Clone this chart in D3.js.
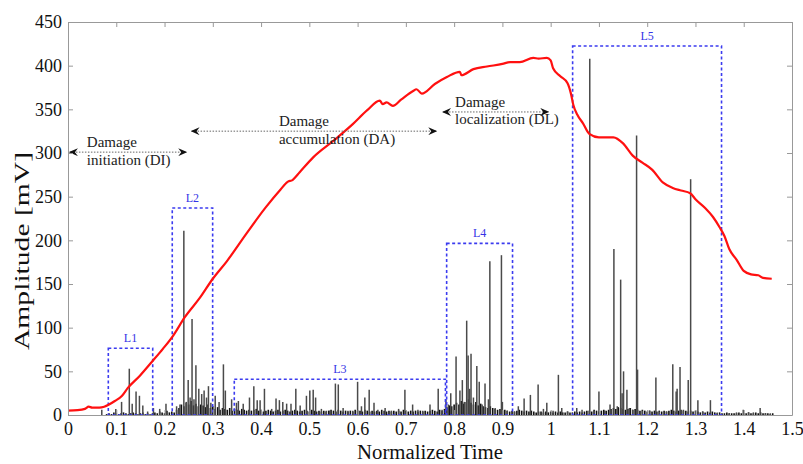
<!DOCTYPE html>
<html>
<head>
<meta charset="utf-8">
<script src="https://cdn.jsdelivr.net/npm/d3@7"></script>
<style>
  body { margin: 0; background: #fff; }
  svg text { font-family: "Liberation Serif", "DejaVu Serif", serif; }
</style>
</head>
<body>
<svg id="chart" width="803" height="464"></svg>
<script>
"use strict";

// load curve (red), [normalized time, amplitude]
var loadCurve = [
    [0, 5], [0.02, 5.5], [0.035, 7], [0.043, 9.5], [0.05, 8.5], [0.065, 8.5], [0.075, 9.5],
    [0.085, 12], [0.097, 16], [0.112, 22], [0.124, 31], [0.149, 45], [0.174, 61], [0.197, 76],
    [0.218, 91], [0.242, 112], [0.273, 134], [0.30, 156], [0.329, 176], [0.37, 208], [0.41, 238],
    [0.44, 258], [0.455, 267], [0.465, 269], [0.48, 278], [0.508, 295], [0.55, 314], [0.59, 333],
    [0.62, 349], [0.646, 360], [0.652, 356], [0.66, 358], [0.673, 354], [0.69, 361], [0.715, 371],
    [0.722, 373], [0.733, 368], [0.76, 379], [0.785, 387], [0.812, 393], [0.815, 389], [0.84, 396],
    [0.868, 399], [0.9, 402], [0.916, 404], [0.936, 404], [0.964, 409], [0.975, 408], [0.992, 409],
    [1.0, 406], [1.005, 397], [1.02, 388], [1.035, 380], [1.042, 368], [1.047, 355], [1.055, 344],
    [1.067, 334], [1.08, 322], [1.10, 318], [1.13, 318], [1.15, 311], [1.17, 297], [1.19, 289],
    [1.21, 281], [1.233, 266], [1.253, 260], [1.27, 257], [1.289, 254], [1.30, 247], [1.32, 237],
    [1.336, 227], [1.35, 215], [1.36, 205], [1.37, 190], [1.385, 178], [1.40, 165], [1.415, 161],
    [1.43, 160], [1.44, 157], [1.458, 156]
];

// AE hits, [normalized time, amplitude]
var aeHits = [
    [0.070, 6], [0.099, 7], [0.111, 15], [0.127, 53], [0.133, 13], [0.141, 27], [0.148, 22], [0.155, 11],
    [0.165, 4], [0.177, 8], [0.19, 7], [0.203, 13], [0.225, 10],
    [0.232, 12], [0.240, 211], [0.245, 15], [0.249, 40], [0.253, 20], [0.257, 110], [0.261, 18],
    [0.265, 57], [0.271, 30], [0.277, 24], [0.282, 28], [0.287, 20], [0.291, 33], [0.296, 14],
    [0.305, 22], [0.313, 15], [0.322, 58], [0.326, 28], [0.339, 18], [0.349, 14],
    [0.353, 16], [0.363, 13], [0.376, 20], [0.385, 33], [0.392, 17], [0.398, 17], [0.407, 30],
    [0.422, 7], [0.431, 19], [0.438, 17], [0.445, 15], [0.453, 13], [0.462, 13], [0.472, 30],
    [0.481, 11], [0.494, 22], [0.501, 28], [0.508, 29], [0.513, 20], [0.525, 7], [0.535, 5],
    [0.542, 5], [0.554, 36], [0.56, 35], [0.57, 8], [0.58, 5], [0.59, 5], [0.6, 38], [0.608, 10],
    [0.615, 20], [0.624, 29], [0.634, 14], [0.642, 6], [0.657, 8], [0.67, 5], [0.685, 7],
    [0.698, 29], [0.714, 12], [0.725, 6], [0.735, 5], [0.75, 12], [0.767, 30], [0.775, 6],
    [0.783, 18], [0.788, 12], [0.793, 25], [0.804, 67], [0.812, 28], [0.817, 40], [0.821, 15],
    [0.826, 108], [0.829, 68], [0.832, 30], [0.835, 70], [0.84, 20], [0.847, 56], [0.852, 38],
    [0.858, 12], [0.864, 36], [0.871, 18], [0.874, 176], [0.885, 8], [0.898, 183], [0.9, 15],
    [0.91, 5], [0.925, 4], [0.933, 10], [0.945, 19], [0.958, 23], [0.974, 35], [0.985, 7],
    [0.992, 14], [1.005, 5], [1.016, 46], [1.023, 8], [1.035, 4], [1.054, 8], [1.065, 6],
    [1.081, 408], [1.09, 5], [1.1, 27], [1.112, 5], [1.123, 12], [1.131, 190], [1.138, 10],
    [1.145, 155], [1.148, 25], [1.151, 50], [1.158, 29], [1.163, 8], [1.17, 6], [1.178, 320],
    [1.18, 52], [1.19, 5], [1.205, 5], [1.218, 43], [1.225, 4], [1.24, 4], [1.253, 58], [1.26, 27],
    [1.262, 30], [1.268, 55], [1.275, 6], [1.285, 40], [1.29, 270], [1.305, 17], [1.315, 4],
    [1.331, 17], [1.345, 3],
    [1.37, 2], [1.385, 3], [1.399, 6], [1.41, 3], [1.42, 3], [1.434, 8], [1.445, 2], [1.455, 2]
];

// low-amplitude background hits, every 0.005 from 0.08
var lowStart = 0.08;
var lowStep = 0.005;
var lowHits = [
    1, 2, 1, 3, 2, 1, 2, 3, 2, 1,
    2, 3, 2, 1, 2, 3, 1, 2, 1, 2,
    3, 2, 4, 3, 2, 5, 3, 4, 3, 6,
    8, 12, 10, 14, 12, 16, 11, 13, 10, 12,
    11, 9, 12, 8, 10, 7, 9, 6, 8, 7,
    6, 8, 5, 7, 6, 5, 7, 6, 5, 6,
    5, 6, 7, 5, 6, 4, 5, 6, 5, 4,
    5, 6, 4, 5, 6, 5, 4, 5, 6, 5,
    4, 5, 6, 5, 4, 6, 5, 4, 5, 4,
    5, 4, 5, 6, 5, 4, 6, 5, 4, 5,
    4, 5, 4, 6, 5, 5, 4, 6, 5, 4,
    5, 4, 5, 4, 6, 5, 4, 5, 4, 5,
    4, 5, 4, 6, 5, 4, 5, 4, 5, 4,
    5, 4, 5, 4, 5, 6, 5, 4, 6, 5,
    7, 9, 11, 10, 12, 14, 12, 16, 13, 15,
    18, 14, 12, 15, 11, 13, 10, 9, 8, 10,
    8, 7, 6, 7, 5, 6, 5, 4, 5, 4,
    5, 6, 5, 4, 5, 4, 5, 4, 3, 4,
    4, 3, 4, 3, 4, 3, 4, 3, 4, 3,
    3, 4, 3, 3, 4, 3, 4, 3, 4, 5,
    5, 4, 6, 5, 4, 5, 6, 5, 6, 7,
    8, 7, 9, 8, 7, 6, 7, 8, 6, 7,
    6, 5, 6, 5, 4, 5, 4, 5, 4, 5,
    4, 5, 4, 5, 6, 5, 4, 5, 6, 5,
    5, 4, 5, 4, 5, 4, 3, 4, 3, 4,
    3, 4, 3, 2, 3, 2, 2, 3, 2, 2,
    2, 2, 3, 2, 2, 2, 3, 2, 2, 3,
    2, 3, 2, 2, 2, 1, 2
];

// localization windows: name, t start, t end, top amplitude
var windows = [
    ["L1", 0.0835, 0.1755, 76.5],
    ["L2", 0.216, 0.2997, 237],
    ["L3", 0.3445, 0.782, 41],
    ["L4", 0.7845, 0.921, 196.5],
    ["L5", 1.0455, 1.354, 422.5]
];

// damage stages: first line, second line, t start, t end, amplitude, text t
var stages = [
    ["Damage", "initiation (DI)", 0.004, 0.245, 301, 0.039],
    ["Damage", "accumulation (DA)", 0.256, 0.763, 325, 0.437],
    ["Damage", "localization (DL)", 0.777, 0.995, 347, 0.802]
];

var xTicks = [0, 0.1, 0.2, 0.3, 0.4, 0.5, 0.6, 0.7, 0.8, 0.9, 1, 1.1, 1.2, 1.3, 1.4, 1.5];
var yTicks = [0, 50, 100, 150, 200, 250, 300, 350, 400, 450];

var margin = { left: 68, right: 11, top: 22, bottom: 49 };
var width = 803, height = 464;

var svg = d3.select("#chart");

var x = d3.scaleLinear().domain([0, 1.5]).range([margin.left, width - margin.right]);
var y = d3.scaleLinear().domain([0, 450]).range([height - margin.bottom, margin.top]);

// arrow head
svg.append("defs").append("marker")
    .attr("id", "head")
    .attr("viewBox", "0 0 9 8")
    .attr("refX", 8)
    .attr("refY", 4)
    .attr("markerWidth", 9)
    .attr("markerHeight", 8)
    .attr("markerUnits", "userSpaceOnUse")
    .attr("orient", "auto-start-reverse")
    .append("path")
    .attr("d", "M0,0 L9,4 L0,8 L3,4 Z")
    .attr("fill", "#111");

// background hits
svg.append("g").selectAll("line")
    .data(lowHits)
    .enter()
    .append("line")
    .attr("x1", function (d, i) { return x(lowStart + i * lowStep); })
    .attr("x2", function (d, i) { return x(lowStart + i * lowStep); })
    .attr("y1", y(0))
    .attr("y2", function (d) { return y(d); })
    .attr("stroke", "#111")
    .attr("stroke-width", 1.6);

// main hits
svg.append("g").selectAll("line")
    .data(aeHits)
    .enter()
    .append("line")
    .attr("x1", function (d) { return x(d[0]); })
    .attr("x2", function (d) { return x(d[0]); })
    .attr("y1", y(0))
    .attr("y2", function (d) { return y(d[1]); })
    .attr("stroke", "#4a4a4a")
    .attr("stroke-width", 1.5);

// windows
var win = svg.append("g");
win.selectAll("rect")
    .data(windows)
    .enter()
    .append("rect")
    .attr("x", function (d) { return x(d[1]); })
    .attr("y", function (d) { return y(d[3]); })
    .attr("width", function (d) { return x(d[2]) - x(d[1]); })
    .attr("height", function (d) { return y(0) - y(d[3]); })
    .attr("fill", "none")
    .attr("stroke", "#3b3bef")
    .attr("stroke-width", 1.6)
    .attr("stroke-dasharray", "3,2.5");

win.selectAll("text")
    .data(windows)
    .enter()
    .append("text")
    .attr("x", function (d) { return (x(d[1]) + x(d[2])) / 2; })
    .attr("y", function (d) { return y(d[3]) - 6; })
    .attr("text-anchor", "middle")
    .attr("font-size", "12px")
    .attr("fill", "#3535e6")
    .text(function (d) { return d[0]; });

// load curve
svg.append("path")
    .datum(loadCurve)
    .attr("d", d3.line()
        .x(function (d) { return x(d[0]); })
        .y(function (d) { return y(d[1]); })
        .curve(d3.curveMonotoneX))
    .attr("fill", "none")
    .attr("stroke", "#ff1010")
    .attr("stroke-width", 2.2);

// damage stage arrows
var st = svg.append("g");
st.selectAll("line")
    .data(stages)
    .enter()
    .append("line")
    .attr("x1", function (d) { return x(d[2]); })
    .attr("x2", function (d) { return x(d[3]); })
    .attr("y1", function (d) { return y(d[4]); })
    .attr("y2", function (d) { return y(d[4]); })
    .attr("stroke", "#666")
    .attr("stroke-width", 1)
    .attr("stroke-dasharray", "1.5,1.5")
    .attr("marker-start", "url(#head)")
    .attr("marker-end", "url(#head)");

st.selectAll("text.l1")
    .data(stages)
    .enter()
    .append("text")
    .attr("class", "l1")
    .attr("x", function (d) { return x(d[5]); })
    .attr("y", function (d) { return y(d[4]) - 5; })
    .attr("font-size", "15px")
    .attr("fill", "#222")
    .text(function (d) { return d[0]; });

st.selectAll("text.l2")
    .data(stages)
    .enter()
    .append("text")
    .attr("class", "l2")
    .attr("x", function (d) { return x(d[5]); })
    .attr("y", function (d) { return y(d[4]) + 12.5; })
    .attr("font-size", "15px")
    .attr("fill", "#222")
    .text(function (d) { return d[1]; });

// frame and ticks
function styleAxis(g) {
    g.select(".domain").attr("stroke", "#999");
    g.selectAll(".tick line").attr("stroke", "#999");
    g.selectAll(".tick text")
        .attr("font-family", "Liberation Serif, serif")
        .attr("font-size", "18px")
        .attr("fill", "#111");
}

svg.append("g")
    .attr("transform", "translate(0," + y(0) + ")")
    .call(d3.axisBottom(x).tickValues(xTicks).tickFormat(d3.format("")).tickSizeInner(-5).tickSizeOuter(0).tickPadding(7))
    .call(styleAxis);

svg.append("g")
    .attr("transform", "translate(0," + y(450) + ")")
    .call(d3.axisTop(x).tickValues(xTicks).tickFormat("").tickSizeInner(-5).tickSizeOuter(0))
    .call(styleAxis);

svg.append("g")
    .attr("transform", "translate(" + x(0) + ",0)")
    .call(d3.axisLeft(y).tickValues(yTicks).tickSizeInner(-5).tickSizeOuter(0).tickPadding(6))
    .call(styleAxis);

svg.append("g")
    .attr("transform", "translate(" + x(1.5) + ",0)")
    .call(d3.axisRight(y).tickValues(yTicks).tickFormat("").tickSizeInner(-5).tickSizeOuter(0))
    .call(styleAxis);

// axis titles
svg.append("text")
    .attr("x", (x(0) + x(1.5)) / 2)
    .attr("y", 459)
    .attr("text-anchor", "middle")
    .attr("font-size", "20px")
    .attr("fill", "#111")
    .attr("textLength", 146)
    .attr("lengthAdjust", "spacingAndGlyphs")
    .text("Normalized Time");

svg.append("text")
    .attr("transform", "translate(29,251) rotate(-90)")
    .attr("text-anchor", "middle")
    .attr("font-size", "20px")
    .attr("fill", "#111")
    .attr("textLength", 198)
    .attr("lengthAdjust", "spacingAndGlyphs")
    .text("Amplitude [mV]");
</script>
</body>
</html>
